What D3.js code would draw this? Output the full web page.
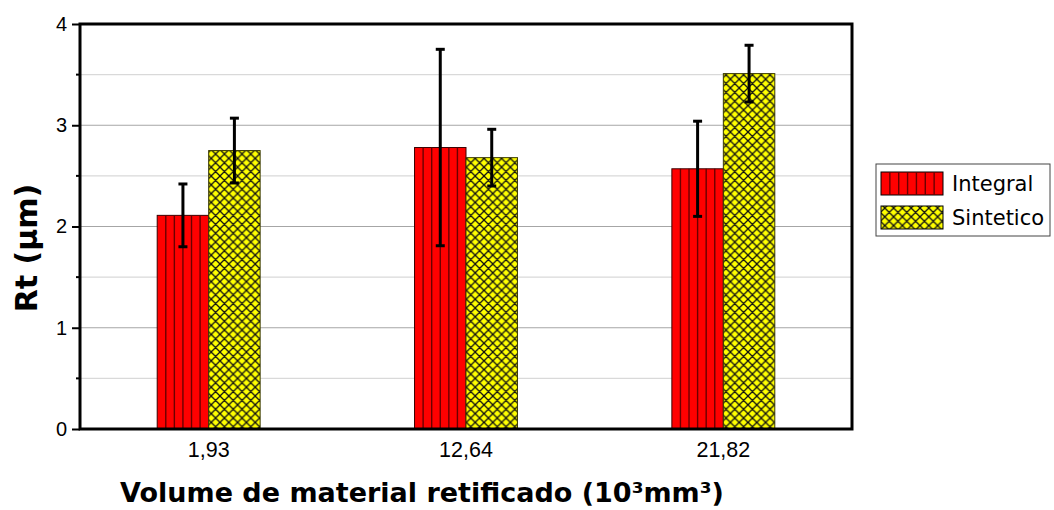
<!DOCTYPE html>
<html>
<head>
<meta charset="utf-8">
<script src="https://cdn.jsdelivr.net/npm/d3@7"></script>
<style>
  html, body { margin: 0; padding: 0; background: #fff; }
  svg { display: block; }
  .tick text { font-family: 'Liberation Sans', Arial, sans-serif; fill: #000; }
  .y-axis .tick text { font-size: 20px; }
  .x-axis .tick text { font-size: 21.5px; }
</style>
</head>
<body>
<svg id="chart" width="1054" height="510"></svg>
<script>
// Rt roughness by ground material volume, two cutting fluids
const categories = ["1,93", "12,64", "21,82"];
const seriesNames = ["Integral", "Sintetico"];
const integralMean = [2.11, 2.78, 2.57];
const integralErr = [0.31, 0.97, 0.47];
const sinteticoMean = [2.75, 2.68, 3.51];
const sinteticoErr = [0.32, 0.28, 0.28];
const yTicks = [0, 1, 2, 3, 4];
const yMinorTicks = [0.5, 1.5, 2.5, 3.5];

const svg = d3.select("#chart");
const margin = { left: 80, right: 202, top: 24, bottom: 81 };
const W = 1054, H = 510;
const x0 = margin.left, x1 = W - margin.right;
const y0 = H - margin.bottom, y1 = margin.top;

const x = d3.scaleBand().domain(categories).range([x0, x1]).padding(0);
const barW = x.bandwidth() * 0.2;
const y = d3.scaleLinear().domain([0, 4]).range([y0, y1]);

const defs = svg.append("defs");
// crosshatch fill for the synthetic fluid
const P = 8.8;
const hatch = defs.append("pattern")
  .attr("id", "cross").attr("patternUnits", "userSpaceOnUse")
  .attr("width", P).attr("height", P);
hatch.append("rect").attr("width", P).attr("height", P).attr("fill", "#ffff00");
hatch.append("path")
  .attr("d", `M0,0 L${P},${P} M${P},0 L0,${P} M-1,${P - 1} L1,${P + 1} M${P - 1},-1 L${P + 1},1`)
  .attr("stroke", "#111").attr("stroke-width", 1.3).attr("fill", "none");

// gridlines
svg.append("g").selectAll("line").data(yMinorTicks).join("line")
  .attr("x1", x0).attr("x2", x1).attr("y1", d => y(d)).attr("y2", d => y(d))
  .attr("stroke", "#d9d9d9").attr("stroke-width", 1.2);
svg.append("g").selectAll("line").data(yTicks.filter(d => d > 0 && d < 4)).join("line")
  .attr("x1", x0).attr("x2", x1).attr("y1", d => y(d)).attr("y2", d => y(d))
  .attr("stroke", "#a6a6a6").attr("stroke-width", 1.2);

const data = categories.map((c, i) => [
  { cat: c, s: 0, v: integralMean[i], e: integralErr[i] },
  { cat: c, s: 1, v: sinteticoMean[i], e: sinteticoErr[i] }
]).flat();

const barX = d => x(d.cat) + x.bandwidth() / 2 + (d.s === 0 ? -barW : 0);

const bars = svg.append("g");
bars.selectAll("rect").data(data).join("rect")
  .attr("x", barX).attr("width", barW)
  .attr("y", d => y(d.v)).attr("height", d => y(0) - y(d.v))
  .attr("fill", d => d.s === 0 ? "#ff0000" : "url(#cross)")
  .attr("stroke", d => d.s === 0 ? "#3a0000" : "#3a3a00").attr("stroke-width", 1);

// vertical stripes of the integral bars
data.filter(d => d.s === 0).forEach(d => {
  const bx = barX(d);
  bars.append("g").selectAll("line").data(d3.range(1, 6)).join("line")
    .attr("x1", k => bx + k * barW / 6).attr("x2", k => bx + k * barW / 6)
    .attr("y1", y(d.v)).attr("y2", y(0))
    .attr("stroke", "#6a0000").attr("stroke-width", 1.4);
});

// error bars
const eb = svg.append("g").attr("stroke", "#000");
data.forEach(d => {
  const cx = barX(d) + barW / 2;
  eb.append("line").attr("x1", cx).attr("x2", cx)
    .attr("y1", y(d.v + d.e)).attr("y2", y(d.v - d.e)).attr("stroke-width", 3);
  [d.v + d.e, d.v - d.e].forEach(v => {
    eb.append("line").attr("x1", cx - 4.5).attr("x2", cx + 4.5)
      .attr("y1", y(v)).attr("y2", y(v)).attr("stroke-width", 3);
  });
});

// frame
svg.append("rect").attr("x", x0).attr("y", y1).attr("width", x1 - x0).attr("height", y0 - y1)
  .attr("fill", "none").attr("stroke", "#000").attr("stroke-width", 3);

// y axis
const yAxis = svg.append("g").attr("class", "y-axis").attr("transform", `translate(${x0},0)`)
  .call(d3.axisLeft(y).tickValues(yTicks).tickFormat(d3.format("d")).tickSize(8).tickPadding(5));
yAxis.select(".domain").remove();
yAxis.selectAll(".tick line").attr("stroke-width", 2);
svg.append("g").selectAll("line").data(yMinorTicks).join("line")
  .attr("x1", x0 - 4).attr("x2", x0).attr("y1", d => y(d)).attr("y2", d => y(d))
  .attr("stroke", "#000").attr("stroke-width", 2);

// x axis labels
const xAxis = svg.append("g").attr("class", "x-axis").attr("transform", `translate(0,${y0})`)
  .call(d3.axisBottom(x).tickSize(0).tickPadding(13));
xAxis.select(".domain").remove();

// axis titles
svg.append("text").attr("x", 422).attr("y", 502)
  .attr("text-anchor", "middle").attr("font-family", "'DejaVu Sans', Verdana, sans-serif")
  .attr("font-weight", "bold").attr("font-size", 27).attr("fill", "#000")
  .text("Volume de material retificado (10³mm³)");
svg.append("text").attr("transform", `translate(36.5,248) rotate(-90)`)
  .attr("text-anchor", "middle").attr("font-family", "'DejaVu Sans', Verdana, sans-serif")
  .attr("font-weight", "bold").attr("font-size", 30).attr("fill", "#000")
  .text("Rt (µm)");

// legend
const lg = svg.append("g").attr("transform", "translate(876,164)");
lg.append("rect").attr("width", 174).attr("height", 72).attr("fill", "#fff")
  .attr("stroke", "#444").attr("stroke-width", 1);
seriesNames.forEach((name, i) => {
  const gy = 8 + i * 34;
  const sw = 62, sh = 23;
  lg.append("rect").attr("x", 5).attr("y", gy).attr("width", sw).attr("height", sh)
    .attr("fill", i === 0 ? "#ff0000" : "url(#cross)").attr("stroke", "#000").attr("stroke-width", 1);
  if (i === 0) {
    lg.append("g").selectAll("line").data(d3.range(1, 7)).join("line")
      .attr("x1", k => 5 + k * sw / 7).attr("x2", k => 5 + k * sw / 7)
      .attr("y1", gy).attr("y2", gy + sh).attr("stroke", "#6a0000").attr("stroke-width", 1.4);
  }
  lg.append("text").attr("x", 76).attr("y", gy + sh / 2 + 1).attr("dominant-baseline", "middle")
    .attr("font-family", "'DejaVu Sans', Tahoma, sans-serif").attr("font-size", 21).attr("fill", "#000")
    .text(name);
});
</script>
</body>
</html>
